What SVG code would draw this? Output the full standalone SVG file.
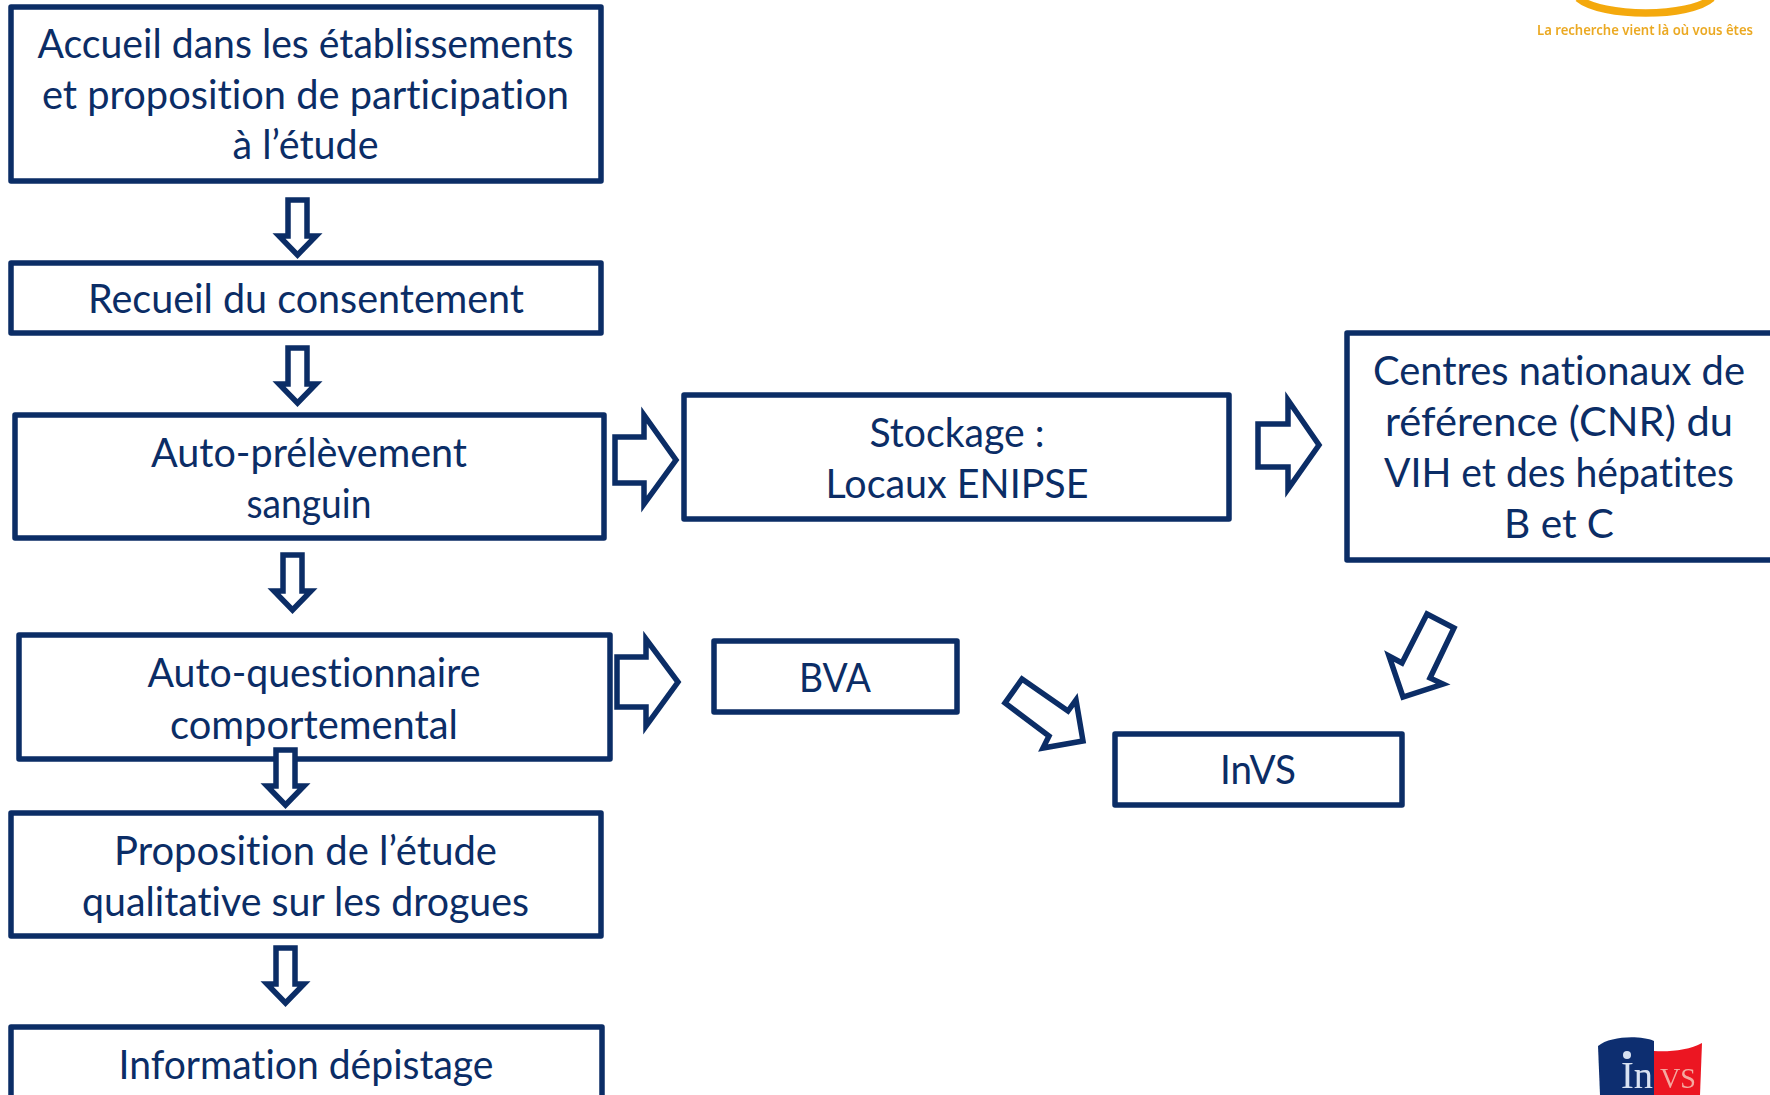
<svg xmlns="http://www.w3.org/2000/svg" width="1770" height="1095" viewBox="0 0 1770 1095">
<defs><filter id="soft" x="-5%" y="-5%" width="110%" height="110%"><feGaussianBlur stdDeviation="0.7"/></filter></defs>
<style>
.box{fill:#fff;stroke:#0b2d66;stroke-width:5.500;stroke-linejoin:round}
.arr{fill:#fff;stroke:#0b2d66;stroke-width:5.500}
text{font-family:"Lato","Noto Sans",sans-serif;font-size:40px;fill:#0b2d66;text-anchor:middle;font-variant-ligatures:none}
</style>
<rect width="1770" height="1095" fill="#fff"/>
<g id="n1"><rect class="box" x="11" y="7" width="590" height="174"/>
<text x="305.500" y="58" textLength="536" lengthAdjust="spacingAndGlyphs">Accueil dans les établissements</text><text x="305.500" y="109" textLength="527" lengthAdjust="spacingAndGlyphs">et proposition de participation</text><text x="305.500" y="159" textLength="146" lengthAdjust="spacingAndGlyphs">à l’étude</text></g>
<g id="n2"><rect class="box" x="11" y="263" width="590" height="70"/><text x="306" y="313" textLength="436" lengthAdjust="spacingAndGlyphs">Recueil du consentement</text></g>
<g id="n3"><rect class="box" x="15" y="415" width="589" height="123"/><text x="309" y="467" textLength="316" lengthAdjust="spacingAndGlyphs">Auto-prélèvement</text><text x="309" y="518" textLength="125" lengthAdjust="spacingAndGlyphs">sanguin</text></g>
<g id="n4"><rect class="box" x="19" y="635" width="591" height="124"/><text x="314" y="687" textLength="333" lengthAdjust="spacingAndGlyphs">Auto-questionnaire</text><text x="314" y="739" textLength="288" lengthAdjust="spacingAndGlyphs">comportemental</text></g>
<g id="n5"><rect class="box" x="11" y="813" width="590" height="123"/><text x="305.500" y="865" textLength="383" lengthAdjust="spacingAndGlyphs">Proposition de l’étude</text><text x="305.500" y="916" textLength="447" lengthAdjust="spacingAndGlyphs">qualitative sur les drogues</text></g>
<g id="n6"><rect class="box" x="11" y="1027" width="591" height="90"/><text x="306" y="1079" textLength="375" lengthAdjust="spacingAndGlyphs">Information dépistage</text></g>
<g id="n7"><rect class="box" x="684" y="395" width="545" height="124"/><text x="957" y="447" textLength="175" lengthAdjust="spacingAndGlyphs">Stockage :</text><text x="957" y="498" textLength="263" lengthAdjust="spacingAndGlyphs">Locaux ENIPSE</text></g>
<g id="n8"><rect class="box" x="1347" y="333" width="430" height="227"/><text x="1559" y="385" textLength="372" lengthAdjust="spacingAndGlyphs">Centres nationaux de</text><text x="1559" y="436" textLength="348" lengthAdjust="spacingAndGlyphs">référence (CNR) du</text><text x="1559" y="487" textLength="350" lengthAdjust="spacingAndGlyphs">VIH et des hépatites</text><text x="1559" y="538" textLength="110" lengthAdjust="spacingAndGlyphs">B et C</text></g>
<g id="n9"><rect class="box" x="714" y="641" width="243" height="71"/><text x="835" y="692" textLength="72" lengthAdjust="spacingAndGlyphs">BVA</text></g>
<g id="n10"><rect class="box" x="1115" y="734" width="287" height="71"/><text x="1258" y="784" textLength="76" lengthAdjust="spacingAndGlyphs">InVS</text></g>
<g id="connectors">
<path class="arr" d="M288 200H307V236H316L297.500 255L279 236H288Z"/>
<path class="arr" d="M288 348H307V384H316L297.500 403L279 384H288Z"/>
<path class="arr" d="M283 555H302V591H311L292.500 610L274 591H283Z"/>
<path class="arr" d="M276 750H295V786H304L285.500 805L267 786H276Z"/>
<path class="arr" d="M276 948H295V984H304L285.500 1003L267 984H276Z"/>
<path class="arr" d="M615 437H644V415L676 460L644 504V483H615Z"/>
<path class="arr" d="M617 657H646V639L678 682L646 726V707H617Z"/>
<path class="arr" d="M1258 424H1288V400L1319 445L1288 489V467H1258Z"/>
<path class="arr" d="M1022 679L1068 711L1076 700L1083 741L1043 748L1049 736L1005 703Z"/>
<path class="arr" d="M1427 614L1454 628L1430 678L1443 684L1403 697L1389 656L1402 663Z"/>
</g>
<g id="logo-top" filter="url(#soft)">
<path d="M1578 -2C1602 18 1690 18 1712 -2" fill="none" stroke="#f4a90c" stroke-width="7.500"/>
<text x="1645" y="35" textLength="216" lengthAdjust="spacingAndGlyphs" style="font-size:13.500px;font-weight:600;fill:#eba923;font-family:'Noto Sans',sans-serif">La recherche vient là où vous êtes</text>
</g>
<g id="logo-bottom" filter="url(#soft)">
<path d="M1598 1046C1610 1036 1640 1035 1654 1041V1095H1600Z" fill="#0e2f70"/>
<path d="M1654 1051C1670 1052 1690 1050 1702 1043L1700 1095H1654Z" fill="#ec1420"/>
<text x="1637" y="1088" textLength="32" lengthAdjust="spacingAndGlyphs" style="font-size:38px;fill:#d8e2f2;font-family:'Liberation Serif',serif">In</text>
<text x="1678" y="1088" textLength="36" lengthAdjust="spacingAndGlyphs" style="font-size:30px;fill:#f4a9a0;font-family:'Liberation Serif',serif">VS</text>
<circle cx="1627" cy="1055" r="4" fill="#d8e2f2"/>
</g>
</svg>
